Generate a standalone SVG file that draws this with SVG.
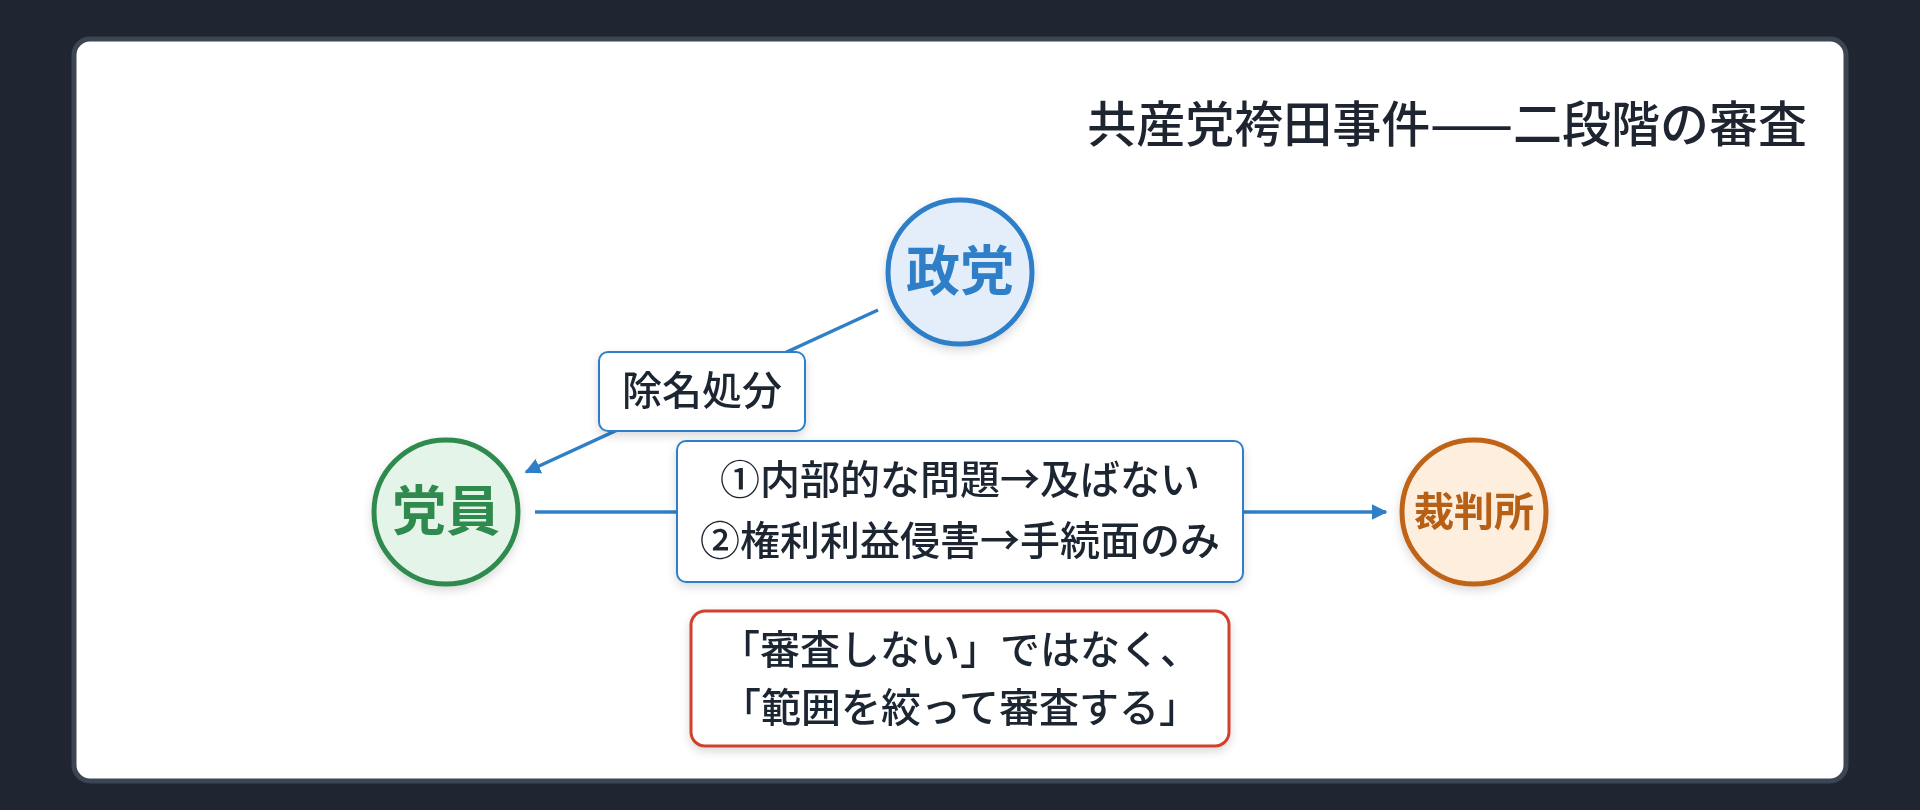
<svg xmlns="http://www.w3.org/2000/svg" width="1920" height="810" viewBox="0 0 1920 810">
<style>
.t{font-family:"Noto Sans CJK JP","Noto Sans CJK SC",sans-serif;fill:#1e2530;}
.lbl{font-size:40px;font-weight:500;text-anchor:middle;}
.node{font-size:54px;font-weight:700;text-anchor:middle;}
.edge{stroke:#2f7fc8;stroke-width:3.5;fill:none;}
.box{fill:#ffffff;stroke:#2f7fc8;stroke-width:2;}
</style>
<defs>
<marker id="arr" viewBox="0 0 10 10" refX="9" refY="5" markerWidth="4.5" markerHeight="4.5" orient="auto-start-reverse">
<path d="M0,0 L10,5 L0,10 z" fill="#2f7fc8"/>
</marker>
<filter id="sh" x="-20%" y="-20%" width="140%" height="150%">
<feDropShadow dx="0" dy="4" stdDeviation="5" flood-color="#000" flood-opacity="0.15"/>
</filter>
</defs>
<rect x="0" y="0" width="1920" height="810" fill="#1f2631"/>
<rect id="card" x="74" y="39" width="1772" height="742" rx="16" fill="#ffffff" stroke="#3c4553" stroke-width="5"/>
<text id="title" class="t" x="1807" y="142" font-size="49" font-weight="500" text-anchor="end">共産党袴田事件——二段階の審査</text>
<g id="connectors">
<line class="edge" x1="878" y1="310" x2="526" y2="472" marker-end="url(#arr)"/>
<line class="edge" x1="535" y1="512" x2="1386" y2="512" marker-end="url(#arr)"/>
</g>
<g id="node-party" filter="url(#sh)">
<circle cx="960" cy="272" r="72" fill="#e3eefa" stroke="#2f7fc8" stroke-width="5"/>
<text class="t node" x="960" y="291" style="fill:#2f7fc8">政党</text>
</g>
<g id="node-member" filter="url(#sh)">
<circle cx="446" cy="512" r="72" fill="#e4f4e8" stroke="#2e8b4e" stroke-width="5"/>
<text class="t node" x="446" y="531" style="fill:#2e8b4e">党員</text>
</g>
<g id="node-court" filter="url(#sh)">
<circle cx="1474" cy="512" r="72" fill="#fdeedd" stroke="#bf6318" stroke-width="5"/>
<text class="t node" x="1474" y="526" style="fill:#b85e15;font-size:40px;font-weight:600">裁判所</text>
</g>
<g id="label-expel" filter="url(#sh)">
<rect class="box" x="599" y="352" width="206" height="79" rx="9"/>
<text class="t lbl" x="702" y="405">除名処分</text>
</g>
<g id="label-review" filter="url(#sh)">
<rect class="box" x="677" y="441" width="566" height="141" rx="9"/>
<text class="t lbl" x="960" y="494">①内部的な問題→及ばない</text>
<text class="t lbl" x="960" y="555">②権利利益侵害→手続面のみ</text>
</g>
<g id="note" filter="url(#sh)">
<rect x="691" y="611" width="538" height="135" rx="14" fill="#ffffff" stroke="#d0412c" stroke-width="3"/>
<text class="t lbl" x="960" y="664">「審査しない」ではなく、</text>
<text class="t lbl" x="960" y="722">「範囲を絞って審査する」</text>
</g>
</svg>
